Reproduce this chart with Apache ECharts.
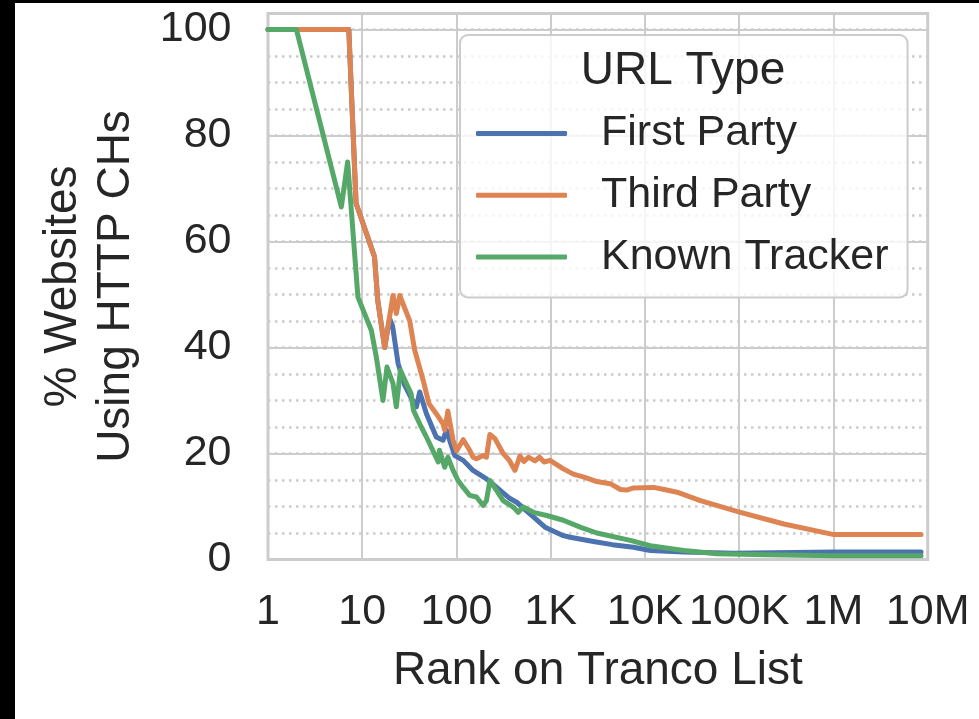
<!DOCTYPE html>
<html>
<head>
<meta charset="utf-8">
<title>HTTP Client Hints by Tranco rank</title>
<script src="https://cdn.jsdelivr.net/npm/echarts@6/dist/echarts.min.js"></script>
<style>
  html, body { margin: 0; padding: 0; background: #000; }
  #chart { position: absolute; left: 15px; top: 3px; width: 964px; height: 716px; background: #fff; }
</style>
</head>
<body>
<div id="chart"></div>
<script>
// Tick labels for the log-scaled rank axis (1 .. 10M)
const rankTickLabels = ['1', '10', '100', '1K', '10K', '100K', '1M', '10M'];

// First Party URLs: rank on Tranco list and share of websites (%)
const firstPartyRanks = [1, 7.2, 8.6, 13.5, 14.6, 17.3, 19.5, 21, 24, 28, 33, 37.5, 40.7, 48, 61, 72, 78, 96, 118, 150, 208, 267, 369, 435, 602, 870, 1361, 1604, 2840, 4500, 7566, 11400, 25800, 88000, 1000000, 8500000];
const firstPartyValues = [100, 100, 67.2, 57.1, 48.9, 40, 45.5, 44, 37, 33, 30.5, 28.8, 31.6, 27.5, 23.1, 22.5, 24.4, 19.6, 18.7, 16.8, 15.2, 13.6, 11.5, 10.8, 8.6, 6.1, 4.5, 4.2, 3.4, 2.8, 2.3, 1.7, 1.4, 1.2, 1.4, 1.4];

// Third Party URLs
const thirdPartyRanks = [1, 7.2, 8.6, 13.5, 14.6, 17.3, 21.2, 23, 25, 31.9, 36, 44, 51, 61, 72, 75, 81, 92, 100, 118, 138, 150, 163, 192, 208, 226, 256, 313, 360, 417, 471, 520, 580, 680, 760, 850, 984, 1361, 1740, 2300, 3085, 4275, 5500, 6400, 7566, 12340, 16000, 21900, 38700, 103000, 298000, 1010000, 8500000];
const thirdPartyValues = [100, 100, 67.2, 57.1, 48.9, 40, 49.8, 46.4, 49.8, 45, 39.5, 34, 29.4, 27.5, 25.6, 24.4, 28, 22.5, 20.5, 22.6, 20.6, 19.3, 19, 19.6, 19.3, 23.6, 22.8, 20, 18.8, 16.8, 19.5, 18.5, 19.3, 18.6, 19.3, 18.4, 18.7, 17.1, 16.1, 15.5, 14.7, 14.3, 13.2, 13.1, 13.5, 13.6, 13.2, 12.7, 11.1, 8.9, 6.7, 4.7, 4.7];

// Known Tracker URLs
const knownTrackerRanks = [1, 2, 6, 7, 9, 12.5, 14.1, 16.6, 18.3, 21.2, 23, 25.4, 29.4, 33, 35, 40.7, 48, 56, 64, 66, 75, 81, 92, 104, 118, 138, 163, 192, 208, 226, 267, 313, 400, 452, 511, 653, 907, 1361, 2050, 3085, 6980, 11400, 25800, 58300, 197000, 1000000, 8500000];
const knownTrackerValues = [100, 100, 66.5, 75, 49.5, 43.2, 38.2, 30, 36.3, 33.2, 28.8, 35.7, 33.2, 31.3, 28.1, 25.6, 23.1, 20.6, 18.4, 20.6, 17.4, 19.3, 16.8, 14.9, 13.6, 12.1, 11.8, 10.2, 11.1, 14.9, 13.0, 11.1, 9.9, 8.9, 9.9, 8.9, 8.3, 7.4, 6.1, 5.0, 3.6, 2.6, 1.7, 1.1, 0.9, 0.7, 0.7];

const seriesNames = ['First Party', 'Third Party', 'Known Tracker'];
const seriesColors = ['#4C72B0', '#DD8452', '#55A868'];

const zip = (xs, ys) => xs.map((x, i) => [x, ys[i]]);
const seriesData = [
  zip(firstPartyRanks, firstPartyValues),
  zip(thirdPartyRanks, thirdPartyValues),
  zip(knownTrackerRanks, knownTrackerValues)
];

const FONT = "'Liberation Sans', Arial, Helvetica, sans-serif";
const TEXT = '#262626';
const GRID = '#cccccc';

const chart = echarts.init(document.getElementById('chart'), null, { renderer: 'canvas' });

chart.setOption({
  animation: false,
  backgroundColor: '#ffffff',
  textStyle: { fontFamily: FONT, color: TEXT },
  grid: {
    left: 253, right: 51.3, top: 10.5, bottom: 159.5,
    show: true, borderColor: GRID, borderWidth: 3, backgroundColor: 'transparent',
    containLabel: false
  },
  title: {
    text: 'URL Type',
    left: 668, top: 42, textAlign: 'center', padding: 0,
    textStyle: { fontFamily: FONT, fontSize: 46, fontWeight: 'normal', color: TEXT, lineHeight: 52 }
  },
  legend: {
    data: seriesNames,
    orient: 'vertical',
    left: 445, top: 32,
    padding: [75, 19, 17, 16],
    itemGap: 14.7,
    itemWidth: 91, itemHeight: 5,
    icon: 'roundRect',
    backgroundColor: 'rgba(255,255,255,0.8)',
    borderColor: GRID, borderWidth: 2, borderRadius: 8,
    textStyle: { fontFamily: FONT, fontSize: 43, color: TEXT, lineHeight: 47, padding: [0, 0, 0, 29] }
  },
  xAxis: {
    type: 'log', logBase: 10, min: 1, max: 1e7,
    name: 'Rank on Tranco List', nameLocation: 'middle', nameGap: 85,
    nameTextStyle: { fontFamily: FONT, fontSize: 46, color: TEXT, lineHeight: 53 },
    axisLine: { show: false }, axisTick: { show: false },
    axisLabel: {
      fontFamily: FONT, fontSize: 43, color: TEXT, margin: 28, lineHeight: 50,
      formatter: v => rankTickLabels[Math.round(Math.log10(v))]
    },
    splitLine: { show: true, lineStyle: { color: GRID, width: 2 } }
  },
  yAxis: [
    {
      type: 'value', min: 0, max: 103, interval: 20,
      name: '% Websites\nUsing HTTP CHs', nameLocation: 'middle', nameRotate: 90, nameGap: 125,
      nameTextStyle: { fontFamily: FONT, fontSize: 46, color: TEXT, lineHeight: 53, align: 'center' },
      axisLine: { show: false }, axisTick: { show: false },
      axisLabel: { fontFamily: FONT, fontSize: 43, color: TEXT, margin: 36.5, showMaxLabel: false },
      splitLine: { show: true, lineStyle: { color: GRID, width: 2 } }
    },
    {
      // finer dotted guides every 5 %
      type: 'value', min: 0, max: 103, interval: 5, position: 'left',
      axisLine: { show: false }, axisTick: { show: false }, axisLabel: { show: false },
      splitLine: { show: true, lineStyle: { color: GRID, width: 2.5, type: [2.5, 4.5] } }
    }
  ],
  series: seriesNames.map((name, i) => ({
    name, type: 'line', data: seriesData[i], yAxisIndex: 0,
    showSymbol: false, symbol: 'none', smooth: false,
    lineStyle: { color: seriesColors[i], width: 5, cap: 'round', join: 'round' },
    itemStyle: { color: seriesColors[i] },
    z: 3 + i
  }))
});
</script>
</body>
</html>
